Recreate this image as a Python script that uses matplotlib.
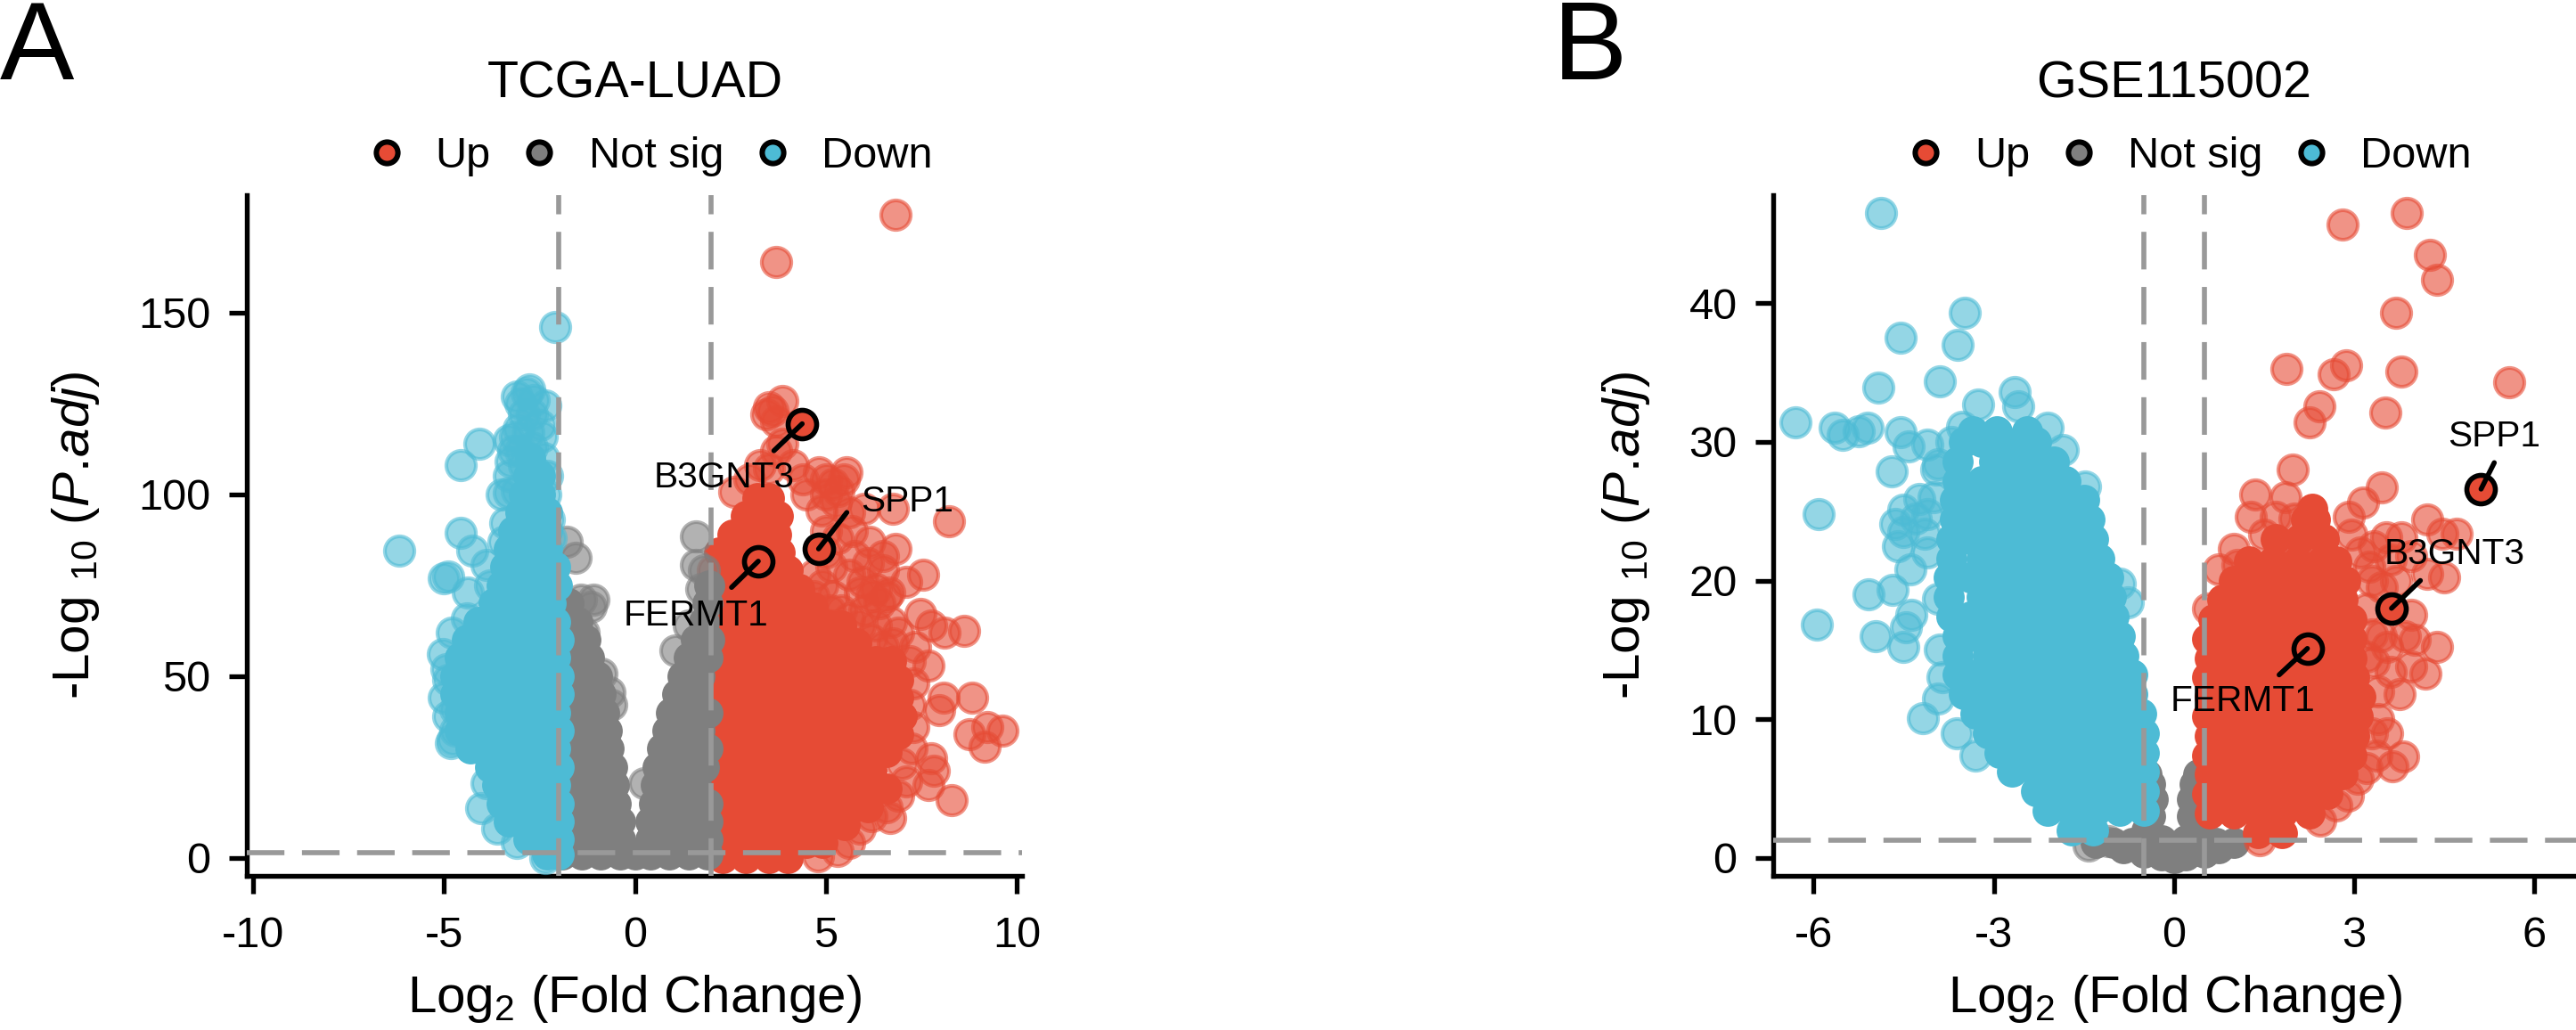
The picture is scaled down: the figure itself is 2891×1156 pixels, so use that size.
import matplotlib
matplotlib.use("Agg")
import matplotlib.pyplot as plt
from matplotlib.lines import Line2D

plt.rcParams['font.family'] = ['Liberation Sans', 'DejaVu Sans']
plt.rcParams['mathtext.fontset'] = 'custom'
plt.rcParams['mathtext.rm'] = 'Liberation Sans'
plt.rcParams['mathtext.it'] = 'Liberation Sans:italic'
plt.rcParams['mathtext.bf'] = 'Liberation Sans:bold'
plt.rcParams['axes.unicode_minus'] = False

W, H, DPI = 2891, 1156, 300
RED, GRAY, BLUE = '#E64B35', '#7F7F7F', '#4DBBD5'
DASH = '#999999'

# ---------- Panel A: TCGA-LUAD ----------
a_xticks = [-10, -5, 0, 5, 10]
a_yticks = [0, 50, 100, 150]
a_thresh_x = [-2, 2]
a_thresh_y = 1.3

# dense regions, as (log10 p, [log2 fc ...]) rows
a_up_dense = [
    (0, [2.3, 2.9, 3.5, 4.0]),
    (4, [2.1, 2.7, 3.3, 3.9, 4.5, 4.9]),
    (9, [2.4, 3.0, 3.6, 4.2, 4.8, 5.5]),
    (14, [2.1, 2.7, 3.3, 3.9, 4.5, 5.1, 5.7, 6.1]),
    (19, [2.4, 3.0, 3.6, 4.2, 4.8, 5.4, 6.0, 6.6]),
    (24, [2.1, 2.7, 3.3, 3.9, 4.5, 5.1, 5.7, 6.2]),
    (29, [2.4, 3.0, 3.6, 4.2, 4.8, 5.4, 6.0, 6.6]),
    (34, [2.1, 2.7, 3.3, 3.9, 4.5, 5.1, 5.7, 6.3, 6.9]),
    (39, [2.4, 3.0, 3.6, 4.2, 4.8, 5.4, 6.0, 6.6, 7.0]),
    (44, [2.1, 2.7, 3.3, 3.9, 4.5, 5.1, 5.7, 6.3, 6.9]),
    (49, [2.4, 3.0, 3.6, 4.2, 4.8, 5.4, 6.0, 6.6, 6.9]),
    (54, [2.1, 2.7, 3.3, 3.9, 4.5, 5.1, 5.7, 6.3, 6.7]),
    (59, [2.4, 3.0, 3.6, 4.2, 4.8, 5.4, 5.8]),
    (64, [2.1, 2.7, 3.3, 3.9, 4.5, 5.1, 5.4]),
    (69, [2.4, 3.0, 3.6, 4.2, 4.65]),
    (74, [2.1, 2.7, 3.3, 3.9, 4.3]),
    (79, [2.4, 3.0, 3.6, 4.0]),
    (84, [2.2, 2.7, 3.3, 3.8]),
    (89, [2.55, 3.1, 3.7]),
    (94, [2.9, 3.4, 3.75]),
    (99, [3.2, 3.5]),
]
a_up_sparse = [
    (6.82, 177), (3.70, 164), (3.87, 125.6), (3.51, 124), (3.6, 123), (3.45, 122), (3.7, 120),
    (3.87, 114), (3.7, 112), (3.27, 108), (3.5, 107), (4.14, 108), (4.81, 106), (5.55, 106),
    (5.34, 101), (5.0, 100), (5.48, 104), (5.2, 103), (2.6, 100.6), (4.88, 95.6), (4.5, 100),
    (6.75, 96), (8.22, 92.5), (5.68, 90), (6.15, 87), (6.82, 85), (6.5, 83), (5.14, 80), (5.0, 84),
    (7.55, 78), (7.1, 76), (5.95, 76), (6.6, 72), (6.2, 72), (4.67, 72), (6.4, 70), (7.49, 67),
    (7.75, 64), (8.1, 62), (8.63, 62.5), (6.75, 59), (7.35, 58), (7.69, 53), (8.09, 44), (8.83, 44),
    (7.96, 40.6), (8.76, 34), (9.23, 36), (9.63, 35), (9.16, 30.6), (7.75, 27.5), (7.82, 24),
    (7.69, 20), (8.29, 16), (6.68, 11), (6.2, 11.5), (5.9, 8), (5.3, 2), (4.8, 0.5), (2.05, 79),
    (7.2, 42), (7.3, 36), (7.25, 30), (7.0, 26), (7.1, 21), (6.9, 17), (6.6, 14), (5.6, 4),
    (5.4, 68), (5.9, 64), (6.2, 60), (4.9, 75), (5.2, 72),
    (5.0, 90), (5.3, 88), (5.75, 83), (6.1, 81), (6.5, 79), (5.6, 78), (5.9, 73), (6.3, 74),
    (6.65, 73), (5.1, 68), (5.6, 66), (6.0, 68), (6.7, 65), (5.4, 62), (6.3, 64), (4.7, 78),
    (4.5, 68), (5.25, 98), (5.6, 95), (6.0, 96), (7.3, 48), (7.2, 54), (6.5, 58), (6.9, 62),
    (5.0, 104), (4.4, 104), (3.0, 104),
]
a_gray_dense = [
    (1, [-1.9, -1.4, -0.9, -0.4, 0, 0.4, 0.9, 1.4, 1.9]),
    (5, [-1.9, -1.4, -0.9, -0.4, 0.4, 0.9, 1.4, 1.9]),
    (10, [-1.6, -1.1, -0.4, -0.7, 0.4, 0.7, 1.1, 1.6, 1.9]),
    (15, [-1.9, -1.4, -0.9, -0.5, 0.5, 0.9, 1.4, 1.9]),
    (20, [-1.6, -1.1, -0.55, 0.55, 1.1, 1.6]),
    (25, [-1.9, -1.4, -0.9, -0.6, 0.6, 0.95, 1.3, 1.8]),
    (30, [-1.6, -1.1, -0.7, 0.7, 1.1, 1.5, 1.9]),
    (35, [-1.9, -1.4, -0.9, -0.75, 0.85, 1.3, 1.7]),
    (40, [-1.6, -1.2, -0.8, 0.95, 1.4, 1.9]),
    (45, [-1.9, -1.4, -0.9, 1.1, 1.6]),
    (50, [-1.6, -1.0, 1.25, 1.7]),
    (55, [-1.9, -1.2, 1.4, 1.9]),
    (60, [-1.6, -1.3, 1.6, 1.95]),
    (65, [-1.9, -1.5, 1.8]),
    (70, [-1.75, 1.9]),
    (75, [1.95]),
]
a_gray_sparse = [
    (-1.08, 71), (-1.42, 71), (-1.15, 69), (-1.55, 82.5), (-1.8, 87), (1.6, 88.5), (1.6, 80.6),
    (1.8, 79), (1.73, 74), (1.4, 64), (1.06, 57), (0.25, 20.6), (-0.68, 45.6), (-0.62, 42),
    (-0.88, 50.6), (-1.35, 62),
]
a_down_dense = [
    (1, [-2.3, -2.0]),
    (5, [-2.8, -2.3, -2.0]),
    (10, [-3.3, -2.8, -2.3, -2.0]),
    (15, [-3.5, -3.0, -2.5, -2.0]),
    (20, [-3.6, -3.1, -2.6, -2.1]),
    (25, [-3.8, -3.3, -2.8, -2.3, -2.0]),
    (30, [-4.3, -3.6, -3.1, -2.6, -2.1, -3.95]),
    (35, [-4.6, -4.0, -3.5, -3.0, -2.5, -2.0]),
    (40, [-4.6, -4.1, -3.6, -3.1, -2.6, -2.1]),
    (45, [-4.7, -4.2, -3.7, -3.2, -2.7, -2.2, -2.0]),
    (50, [-4.7, -4.2, -3.7, -3.2, -2.7, -2.2, -2.0]),
    (55, [-4.6, -4.1, -3.6, -3.1, -2.6, -2.1]),
    (60, [-4.4, -3.9, -3.4, -2.9, -2.4, -2.0]),
    (65, [-4.1, -3.6, -3.1, -2.6, -2.1]),
    (70, [-3.7, -3.2, -2.7, -2.2]),
    (75, [-3.5, -3.0, -2.5, -2.05]),
    (80, [-3.4, -2.9, -2.4, -2.1]),
    (85, [-3.3, -2.8, -2.3]),
    (90, [-3.2, -2.7, -2.3]),
    (95, [-3.0, -2.6, -2.3]),
    (100, [-2.9, -2.5]),
    (105, [-2.8, -2.5]),
    (110, [-2.75]),
]
a_down_sparse = [
    (-2.09, 146), (-2.76, 128.75), (-3.1, 127), (-2.36, 124.4), (-3.0, 125), (-2.9, 122), (-2.7, 122),
    (-3.15, 116), (-3.3, 115), (-3.2, 112), (-2.7, 113), (-2.4, 110), (-2.6, 106), (-2.9, 108),
    (-3.3, 100.5), (-3.1, 101), (-2.35, 100), (-2.25, 93), (-2.2, 88), (-3.4, 92), (-3.45, 87),
    (-4.07, 114), (-4.57, 108), (-3.5, 100), (-4.57, 89.4), (-6.17, 84.4), (-4.27, 84.4), (-5.0, 76.9),
    (-4.9, 77.5), (-4.37, 73), (-3.9, 80.6), (-3.8, 75), (-5.04, 56), (-4.77, 32.5), (-4.83, 31.5),
    (-4.03, 13.75), (-3.9, 20.6), (-4.7, 41), (-4.9, 49), (-3.1, 4), (-2.36, 0), (-4.7, 35),
    (-4.8, 62), (-4.4, 66), (-3.6, 8), (-5.0, 44), (-4.9, 39), (-4.95, 52),
    (-3.05, 118), (-2.8, 117), (-2.45, 116), (-3.25, 109), (-3.0, 112), (-2.3, 105), (-3.3, 105),
    (-2.85, 128), (-2.65, 126), (-2.5, 119),
]
a_hits = ['B3GNT3', 'SPP1', 'FERMT1']
a_hit_x = [4.38, 4.81, 3.23]
a_hit_y = [119.4, 85, 81.6]
a_seg_x = [3.64, 5.55, 2.53]
a_seg_y = [112, 95, 74.4]
a_txt_x = [2.33, 7.13, 1.59]
a_txt_y = [104.7, 97.9, 66.6]

# ---------- Panel B: GSE115002 ----------
b_xticks = [-6, -3, 0, 3, 6]
b_yticks = [0, 10, 20, 30, 40]
b_thresh_x = [-0.5, 0.5]
b_thresh_y = 1.3

b_up_dense = [
    (1.8, [1.4, 1.8]),
    (3.2, [0.6, 1.0, 1.4, 1.8, 2.25]),
    (4.6, [0.55, 0.8, 1.2, 1.6, 2.0, 2.4, 2.55]),
    (6.0, [0.6, 1.0, 1.4, 1.8, 2.2, 2.6, 2.8]),
    (7.4, [0.55, 0.8, 1.2, 1.6, 2.0, 2.4, 2.8, 2.95]),
    (8.8, [0.6, 1.0, 1.4, 1.8, 2.2, 2.6, 3.0]),
    (10.2, [0.55, 0.8, 1.2, 1.6, 2.0, 2.4, 2.8, 3.05]),
    (11.6, [0.6, 1.0, 1.4, 1.8, 2.2, 2.6, 3.0, 3.1]),
    (13.0, [0.55, 0.8, 1.2, 1.6, 2.0, 2.4, 2.8, 3.0]),
    (14.4, [0.6, 1.0, 1.4, 1.8, 2.2, 2.6, 2.95]),
    (15.8, [0.55, 0.8, 1.2, 1.6, 2.0, 2.4, 2.8, 2.95]),
    (17.2, [0.65, 1.0, 1.4, 1.8, 2.2, 2.6, 2.95]),
    (18.6, [0.8, 1.2, 1.6, 2.0, 2.4, 2.8]),
    (20.0, [1.0, 1.4, 1.8, 2.2, 2.6, 2.85]),
    (21.4, [1.25, 1.65, 2.05, 2.45, 2.7]),
    (23.0, [1.7, 2.1, 2.5]),
    (24.4, [2.2, 2.35]),
    (25.2, [2.3]),
]
b_up_sparse = [
    (3.88, 46.5), (2.81, 45.7), (4.26, 43.5), (4.37, 41.7), (3.7, 39.3), (1.87, 35.3), (2.86, 35.5),
    (2.66, 34.9), (3.78, 35.1), (5.58, 34.3), (2.42, 32.6), (3.51, 32.1), (2.26, 31.4), (1.97, 28),
    (1.35, 26.2), (1.86, 26), (3.46, 26.7), (3.15, 25.6), (2.91, 24.6), (1.28, 24.6), (1.5, 23.3),
    (4.22, 24.4), (4.71, 23.4), (4.47, 23.4), (3.53, 23.1), (3.78, 23.1), (3.33, 22.5), (3.95, 21.8),
    (4.49, 20.2), (4.22, 20.5), (3.46, 19.5), (3.95, 17.5), (4.38, 15.2), (3.29, 16.1), (4.0, 15.7),
    (4.18, 13.3), (3.95, 13.8), (3.6, 13.4), (3.76, 11.8), (3.33, 14.1), (3.55, 9), (3.82, 7.3),
    (3.64, 6.6), (3.37, 7.4), (3.06, 5.7), (2.44, 2.7), (1.42, 1.3), (0.75, 20.8), (1.06, 21.1),
    (0.57, 18), (3.3, 20), (3.2, 18), (3.4, 12), (2.7, 3.8), (2.9, 4.5),
    (3.1, 22), (3.25, 21), (3.45, 16), (3.2, 14.5), (3.4, 10), (3.3, 9), (3.2, 6.5), (2.95, 23.3),
    (3.6, 21.5), (3.7, 20), (2.0, 24.5), (1.7, 24.6), (1.0, 22.3), (3.55, 15.2), (3.85, 16),
]
b_gray_dense = [
    (0.0, [0.0]),
    (0.2, [-0.2, 0.2]),
    (0.4, [-0.5, 0.5]),
    (0.7, [-0.85, 0.75]),
    (1.1, [-1.3, -1.0, -0.7, -0.4, 0.4, 0.7, 1.0]),
    (1.3, [-0.2, 0.2]),
    (2.0, [-0.45, 0.4]),
    (3.0, [-0.4, 0.3]),
    (4.2, [-0.35, 0.3]),
    (5.3, [-0.4, 0.35]),
    (6.0, [-0.45, 0.4]),
]
b_gray_sparse = [(-1.42, 0.9), (-1.1, 1.2)]
b_down_dense = [
    (2.0, [-1.7, -1.35]),
    (3.4, [-2.1, -1.7, -1.3, -0.9, -0.5]),
    (4.8, [-2.3, -1.9, -1.5, -1.1, -0.7, -0.5]),
    (6.2, [-2.7, -2.3, -1.9, -1.5, -1.1, -0.7, -0.5]),
    (7.6, [-2.9, -2.5, -2.1, -1.7, -1.3, -0.9, -0.5]),
    (9.0, [-3.1, -2.7, -2.3, -1.9, -1.5, -1.1, -0.7, -0.5]),
    (10.4, [-3.3, -2.9, -2.5, -2.1, -1.7, -1.3, -0.9, -0.55]),
    (11.8, [-3.5, -3.1, -2.7, -2.3, -1.9, -1.5, -1.1, -0.7]),
    (13.2, [-3.6, -3.3, -2.9, -2.5, -2.1, -1.7, -1.3, -0.9, -0.7]),
    (14.6, [-3.6, -3.1, -2.7, -2.3, -1.9, -1.5, -1.1, -0.85]),
    (16.0, [-3.6, -3.3, -2.9, -2.5, -2.1, -1.7, -1.3, -0.9]),
    (17.4, [-3.7, -3.4, -3.0, -2.6, -2.2, -1.8, -1.4, -1.0]),
    (18.8, [-3.75, -3.2, -2.8, -2.4, -2.0, -1.6, -1.2, -1.05]),
    (20.2, [-3.75, -3.4, -3.0, -2.6, -2.2, -1.8, -1.4, -1.1]),
    (21.6, [-3.7, -3.2, -2.8, -2.4, -2.0, -1.6, -1.25]),
    (23.0, [-3.7, -3.4, -3.0, -2.6, -2.2, -1.8, -1.35]),
    (24.4, [-3.65, -3.2, -2.8, -2.4, -2.0, -1.6, -1.4]),
    (25.8, [-3.65, -3.4, -3.0, -2.6, -2.2, -1.8, -1.5]),
    (27.2, [-3.6, -3.2, -2.8, -2.4, -2.0, -1.8]),
    (28.6, [-3.6, -3.0, -2.6, -2.2, -2.0]),
    (30.0, [-3.5, -3.2, -2.8, -2.4, -2.3]),
    (30.8, [-3.35, -2.95, -2.45]),
]
b_down_sparse = [
    (-4.88, 46.5), (-3.48, 39.3), (-4.55, 37.5), (-3.6, 37), (-3.9, 34.4), (-4.92, 33.9), (-6.3, 31.4),
    (-5.64, 31), (-5.51, 30.5), (-5.24, 30.8), (-5.1, 31), (-4.55, 30.7), (-4.42, 29.7), (-4.1, 29.8),
    (-4.7, 27.9), (-3.93, 28.4), (-5.91, 24.8), (-4.24, 25.9), (-4.5, 25.1), (-4.64, 24.1), (-4.6, 22.5),
    (-4.15, 23.4), (-4.39, 20.8), (-5.08, 19), (-4.68, 19.3), (-5.95, 16.8), (-4.97, 16), (-4.37, 17.5),
    (-4.46, 16.6), (-4.5, 15.2), (-3.93, 18.7), (-3.93, 11.5), (-4.18, 10.1), (-3.62, 9), (-3.3, 7.4),
    (-2.65, 33.6), (-2.59, 32.6), (-3.26, 32.7), (-1.48, 26.8), (-1.92, 27.2), (-0.77, 18.4), (-0.9, 19.8),
    (-3.53, 31.1), (-4.1, 22), (-4.0, 26), (-3.9, 15), (-3.85, 13), (-4.3, 24.5), (-4.1, 24.8),
    (-4.5, 23.5), (-3.95, 28), (-3.7, 30), (-2.1, 31), (-1.85, 29.4),
]
b_hits = ['B3GNT3', 'SPP1', 'FERMT1']
b_hit_x = [3.62, 5.11, 2.22]
b_hit_y = [18, 26.6, 15.1]
b_seg_x = [4.1, 5.33, 1.75]
b_seg_y = [20, 28.5, 13.2]
b_txt_x = [4.67, 5.33, 1.15]
b_txt_y = [21.9, 30.4, 11.3]

legend_names = ['Up', 'Not sig', 'Down']
legend_cols = [RED, GRAY, BLUE]
S_SPARSE = 63


def rows_to_xy(rows):
    xs, ys = [], []
    for y, row in rows:
        for x in row:
            xs.append(x)
            ys.append(y)
    return xs, ys


def panel(box, xlim, ylim, xticks, yticks, title, series, tx, ty,
          hits, hx, hy, sx, sy, lx, ly, legend_cx, letter, letter_x, ylabelpad):
    l, r, t, b = box
    ax = fig.add_axes([l / W, 1 - b / H, (r - l) / W, (b - t) / H])
    ax.set_xlim(*xlim)
    ax.set_ylim(*ylim)
    z = 2
    for dense, sparse, col in series:
        xd, yd = rows_to_xy(dense)
        ax.scatter(xd, yd, s=70, c=col, linewidths=0, zorder=z)
        if sparse:
            ax.scatter([p[0] for p in sparse], [p[1] for p in sparse], s=S_SPARSE, c=col, alpha=0.6,
                       linewidths=1.0, edgecolors=col, zorder=z)
        z += 1
    for v in tx:
        ax.axvline(v, color=DASH, lw=1.35, dashes=(7.5, 3.5), zorder=8)
    ax.axhline(ty, color=DASH, lw=1.35, dashes=(7.5, 3.5), zorder=8)
    ax.scatter(hx, hy, s=59, c=RED, edgecolors='black', linewidths=1.35, zorder=9)
    for i, name in enumerate(hits):
        ax.plot([hx[i], sx[i]], [hy[i], sy[i]], color='black', lw=1.35, solid_capstyle='round', zorder=10)
        ax.text(lx[i], ly[i], name, fontsize=9.75, ha='center', va='center', color='black', zorder=11)
    for s in ('top', 'right'):
        ax.spines[s].set_visible(False)
    for s in ('left', 'bottom'):
        ax.spines[s].set_linewidth(1.3)
    ax.set_xticks(xticks)
    ax.set_xticklabels([str(v) for v in xticks])
    ax.set_yticks(yticks)
    ax.tick_params(length=4.9, width=1.28, labelsize=11.7, pad=4.8)
    ax.tick_params(axis='x', pad=6)
    ax.set_xlabel(r'$\mathrm{Log}_{2}$ (Fold Change)', fontsize=14, labelpad=4.4)
    ax.set_ylabel(r'-Log $_{10}$ ($\mathit{P.\!adj}$)', fontsize=14, labelpad=ylabelpad)
    fig.text(legend_cx / W, 1 - 110 / H, title, fontsize=13.8, ha='center', va='baseline')
    fig.text(letter_x / W, 1 - 89 / H, letter, fontsize=30, ha='left', va='baseline')
    handles = [Line2D([], [], ls='none', marker='o', ms=5.8, mew=1.45, mec='black', mfc=c) for c in legend_cols]
    ax.legend(handles, legend_names, ncol=3, frameon=False, fontsize=11.7, loc='center',
              bbox_to_anchor=((legend_cx + 15) / W, 1 - 176 / H), bbox_transform=fig.transFigure,
              borderpad=0, borderaxespad=0, handlelength=1, handletextpad=0.63, columnspacing=0.62)


fig = plt.figure(figsize=(W / DPI, H / DPI), dpi=DPI)
panel((277, 1147, 219, 983), (-10.17, 10.14), (-4.95, 182.3), a_xticks, a_yticks, 'TCGA-LUAD',
      [(a_up_dense, a_up_sparse, RED), (a_gray_dense, a_gray_sparse, GRAY), (a_down_dense, a_down_sparse, BLUE)],
      a_thresh_x, a_thresh_y, a_hits, a_hit_x, a_hit_y, a_seg_x, a_seg_y, a_txt_x, a_txt_y, 712.7, 'A', 0, 10)
panel((1990, 2891, 219, 983), (-6.67, 6.69), (-1.3, 47.8), b_xticks, b_yticks, 'GSE115002',
      [(b_gray_dense, b_gray_sparse, GRAY), (b_up_dense, b_up_sparse, RED), (b_down_dense, b_down_sparse, BLUE)],
      b_thresh_x, b_thresh_y, b_hits, b_hit_x, b_hit_y, b_seg_x, b_seg_y, b_txt_x, b_txt_y, 2440, 'B', 1743, 10)
fig.savefig('out.png', dpi=DPI)
